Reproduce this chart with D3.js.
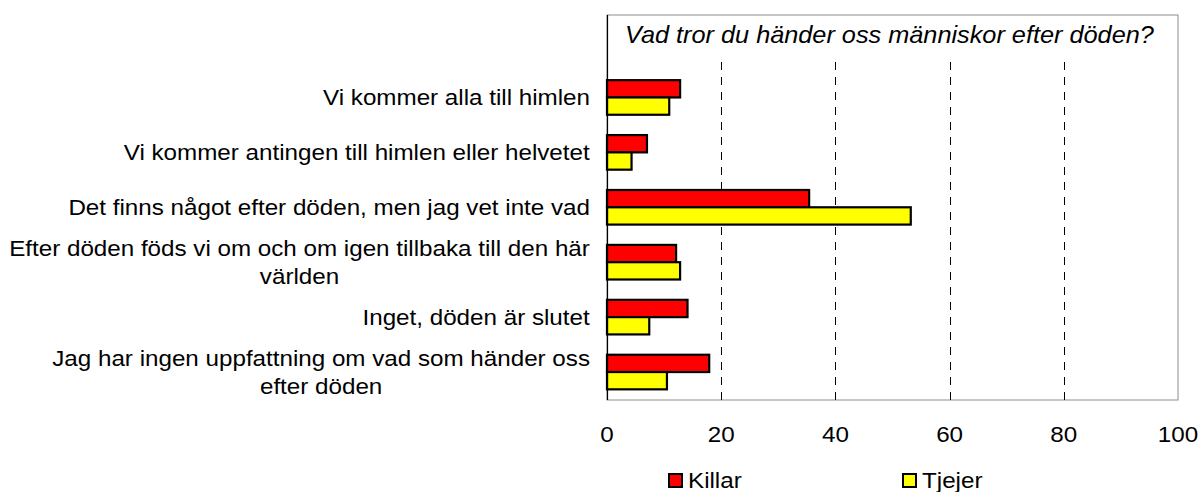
<!DOCTYPE html>
<html>
<head>
<meta charset="utf-8">
<script src="https://cdn.jsdelivr.net/npm/d3@7"></script>
<style>
  body { margin: 0; background: #fff; }
  text { font-family: "Liberation Sans", Arial, sans-serif; fill: #000; }
</style>
</head>
<body>
<svg id="chart" width="1202" height="492"></svg>
<script>
// data (percent)
var categories = [
    ["Vi kommer alla till himlen"],
    ["Vi kommer antingen till himlen eller helvetet"],
    ["Det finns något efter döden, men jag vet inte vad"],
    ["Efter döden föds vi om och om igen tillbaka till den här", "världen"],
    ["Inget, döden är slutet"],
    ["Jag har ingen uppfattning om vad som händer oss", "efter döden"]
];
var seriesNames = ["Killar", "Tjejer"];
var seriesColors = ["#ff0000", "#ffff00"];
var killar = [12.8, 7.0, 35.4, 12.1, 14.1, 17.9];
var tjejer = [10.9, 4.3, 53.2, 12.8, 7.4, 10.5];
var xTicks = [0, 20, 40, 60, 80, 100];
var title = "Vad tror du händer oss människor efter döden?";

var svg = d3.select('#chart');
var plot = { left: 607, right: 1178, top: 15, bottom: 400, gridTop: 61 };
var stretch = 1.1; // the text in the picture is a bit wider than tall

var x = d3.scaleLinear().domain([0, 100]).range([plot.left, plot.right]);
var y = d3.scaleBand()
    .domain(d3.range(categories.length))
    .range([70, 399.5])
    .paddingInner(0.37)
    .paddingOuter(0.185);
var ySub = d3.scaleBand().domain(seriesNames).range([0, y.bandwidth()]);

// helper: text with a slight horizontal stretch
function label(g, px, py, str, size, anchor, italic) {
    return g.append('text')
        .attr('transform', 'translate(' + px + ',' + py + ') scale(' + stretch + ',1)')
        .attr('font-size', size)
        .attr('text-anchor', anchor)
        .attr('font-style', italic ? 'italic' : 'normal')
        .text(str);
}

// frame
svg.append('rect')
    .attr('x', plot.left).attr('y', plot.top)
    .attr('width', plot.right - plot.left).attr('height', plot.bottom - plot.top)
    .attr('fill', 'none').attr('stroke', '#8c8c8c').attr('stroke-width', 1);

// dashed grid
svg.append('g').selectAll('line')
    .data(xTicks.filter(function (d) { return d > 0 && d < 100; }))
    .join('line')
    .attr('x1', function (d) { return Math.round(x(d)) + 0.5; })
    .attr('x2', function (d) { return Math.round(x(d)) + 0.5; })
    .attr('y1', plot.bottom).attr('y2', plot.gridTop)
    .attr('stroke', '#000').attr('stroke-width', 1)
    .attr('stroke-dasharray', '8,7');

// bars
var series = [killar, tjejer];
var barG = svg.append('g');
series.forEach(function (vals, s) {
    barG.selectAll('rect.s' + s)
        .data(vals)
        .join('rect')
        .attr('class', 's' + s)
        .attr('x', x(0))
        .attr('y', function (d, i) { return y(i) + ySub(seriesNames[s]); })
        .attr('width', function (d) { return x(d) - x(0); })
        .attr('height', ySub.bandwidth())
        .attr('fill', seriesColors[s])
        .attr('stroke', '#000')
        .attr('stroke-width', 2.2);
});

// value axis line
svg.append('line')
    .attr('x1', plot.left + 0.5).attr('x2', plot.left + 0.5)
    .attr('y1', plot.top).attr('y2', plot.bottom)
    .attr('stroke', '#000').attr('stroke-width', 1.2);

// title
label(svg, 625, 43, title, 23, 'start', true);

// tick labels
var tickG = svg.append('g');
xTicks.forEach(function (t) { label(tickG, x(t), 442, t, 22, 'middle'); });

// category labels (block right-aligned, lines centred)
var catG = svg.append('g');
var lineH = 28.5;
categories.forEach(function (lines, i) {
    var cy = y(i) + y.bandwidth() / 2;
    var tmp = lines.map(function (l) { return label(catG, 0, -100, l, 22, 'start'); });
    var w = d3.max(tmp, function (t) { return t.node().getBBox().width * stretch; });
    tmp.forEach(function (t) { t.remove(); });
    var cx = 590 - w / 2;
    lines.forEach(function (l, k) {
        var ly = cy + (k - (lines.length - 1) / 2) * lineH + 8;
        label(catG, cx, ly, l, 22, 'middle');
    });
});

// legend
var legendX = [669, 903];
var legG = svg.append('g');
seriesNames.forEach(function (name, s) {
    legG.append('rect')
        .attr('x', legendX[s]).attr('y', 474)
        .attr('width', 13).attr('height', 13)
        .attr('fill', seriesColors[s])
        .attr('stroke', '#000').attr('stroke-width', 2);
    label(legG, legendX[s] + 19, 488, name, 22, 'start');
});
</script>
</body>
</html>
